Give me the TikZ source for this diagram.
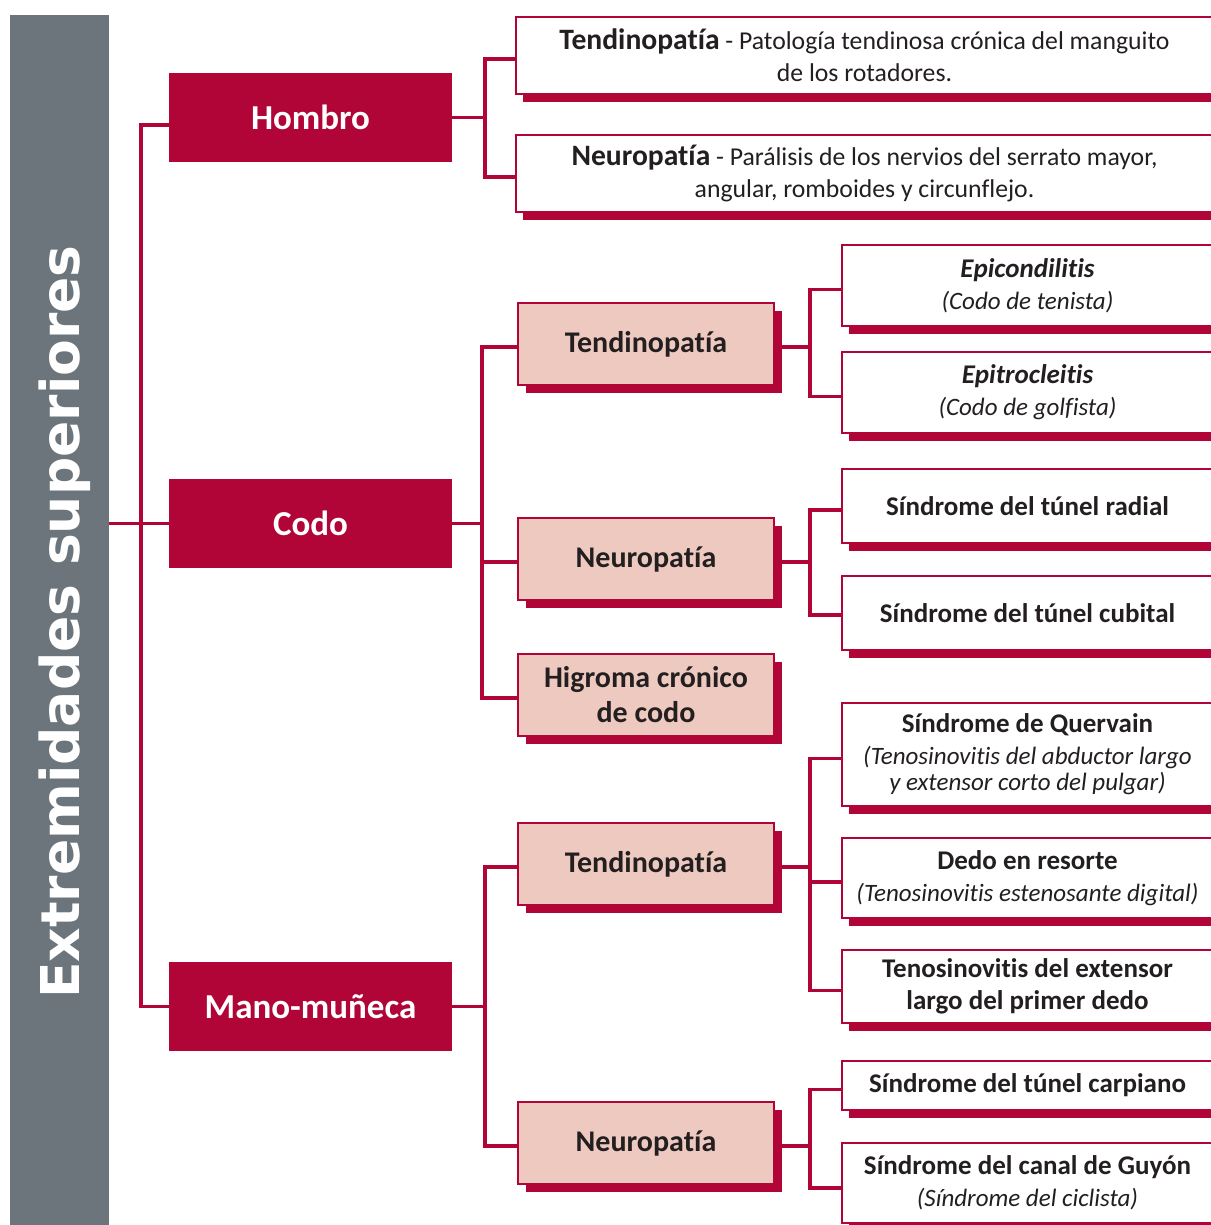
\documentclass[tikz,border=0pt]{standalone}
\usepackage{fontspec}
\setmainfont{Carlito}[Ligatures=NoCommon]
\newfontfamily\titlefont{DejaVu Sans}
\usetikzlibrary{shadows}
\definecolor{crim}{HTML}{B10537}
\definecolor{pinkf}{HTML}{EEC9C0}
\definecolor{slate}{HTML}{6B757B}
\definecolor{ink}{HTML}{231F20}
\newcommand{\bl}{\fontsize{27}{26}\selectfont\bfseries}
\newcommand{\il}{\fontsize{25}{26}\selectfont\itshape}
\tikzset{
 lone/.style={fill=crim,text=white,font=\fontsize{35}{40}\selectfont\bfseries,minimum width=283pt,minimum height=89pt,inner sep=0pt},
 pinkbox/.style={fill=pinkf,draw=crim,line width=1.7pt,text=ink,font=\fontsize{30}{35}\selectfont\bfseries,minimum width=256pt,minimum height=82pt,inner sep=0pt,align=center,drop shadow={shadow xshift=8pt,shadow yshift=-8pt,opacity=1,fill=crim}},
 whitebox/.style={fill=white,draw=crim,line width=1.7pt,text=ink,font=\fontsize{27}{26}\selectfont,inner sep=0pt,align=center,drop shadow={shadow xshift=7pt,shadow yshift=-8pt,opacity=1,fill=crim}},
 childbox/.style={whitebox,minimum width=371pt},
 conn/.style={draw=crim,line width=3.6pt},
}
\begin{document}
\begin{tikzpicture}[x=1pt,y=-1pt]
\useasboundingbox (0,0) rectangle (1210,1225);
% side bar
\node[fill=slate,minimum width=99pt,minimum height=1210pt,inner sep=0pt] (bar) at (59.5,620) {};
\node[rotate=90,anchor=base,text=white,inner sep=0pt,font=\titlefont\fontsize{53.5}{60}\selectfont\bfseries] (title) at (79,622) {Extremidades superiores};
% level 1
\node[lone] (hombro) at (310.5,117.5) {Hombro};
\node[lone] (codo) at (310.5,523.5) {Codo};
\node[lone] (mano) at (310.5,1006.5) {Mano-muñeca};
% hombro children
\node[whitebox,minimum width=697pt,minimum height=77pt,font=\fontsize{25.7}{32}\selectfont] (hten) at (864.5,55.5)
  {{\fontsize{29.6}{32}\selectfont\bfseries Tendinopatía} - Patología tendinosa crónica del manguito\\de los rotadores.};
\node[whitebox,minimum width=697pt,minimum height=77pt,font=\fontsize{25.7}{32}\selectfont] (hneu) at (864.5,173.5)
  {{\fontsize{29.6}{32}\selectfont\bfseries Neuropatía} - Parálisis de los nervios del serrato mayor,\\angular, romboides y circunflejo.};
% codo children
\node[pinkbox] (cten) at (646,344) {Tendinopatía};
\node[pinkbox] (cneu) at (646,559) {Neuropatía};
\node[pinkbox] (chig) at (646,695) {Higroma crónico\\de codo};
% mano children
\node[pinkbox] (mten) at (646,864) {Tendinopatía};
\node[pinkbox] (mneu) at (646,1143) {Neuropatía};
% level 3
\node[childbox,minimum height=81pt] (epi) at (1027.5,285.5) {{\bl\itshape Epicondilitis}\\[6pt]{\il (Codo de tenista)}};
\node[childbox,minimum height=81pt] (epit) at (1027.5,392.5) {{\bl\itshape Epitrocleitis}\\[6pt]{\il (Codo de golfista)}};
\node[childbox,minimum height=74pt] (rad) at (1027.5,506) {\bl Síndrome del túnel radial};
\node[childbox,minimum height=74pt] (cub) at (1027.5,613) {\bl Síndrome del túnel cubital};
\node[childbox,minimum height=103pt] (quer) at (1027.5,754.5) {{\bl Síndrome de Quervain}\\[6pt]{\il (Tenosinovitis del abductor largo}\\{\il y extensor corto del pulgar)}};
\node[childbox,minimum height=80pt] (dedo) at (1027.5,878) {{\bl Dedo en resorte}\\[6pt]{\il (Tenosinovitis estenosante digital)}};
\node[childbox,minimum height=73pt] (teno) at (1027.5,986.5) {{\bl Tenosinovitis del extensor}\\[6pt]{\bl largo del primer dedo}};
\node[childbox,minimum height=49pt] (carp) at (1027.5,1085.5) {\bl Síndrome del túnel carpiano};
\node[childbox,minimum height=80pt] (guy) at (1027.5,1183) {{\bl Síndrome del canal de Guyón}\\[6pt]{\il (Síndrome del ciclista)}};
% connectors level 0-1
\draw[conn] (bar.east |- codo.west) -- (codo.west);
\draw[conn] ([yshift=-7.5pt]hombro.west) -- ++(-28,0) |- (mano.west);
% hombro
\draw[conn] (hombro.east) -- ++(34,0);
\draw[conn] ([yshift=-3.5pt]hten.west) -- ++(-30,0) |- ([yshift=-3.5pt]hneu.west);
% codo
\draw[conn] (codo.east) -- ++(31,0);
\draw[conn] ([yshift=-3pt]cten.west) -- ++(-35,0) |- ([yshift=-3pt]chig.west);
\draw[conn] ([yshift=-3pt]cneu.west) -- ++(-35,0);
% mano
\draw[conn] (mano.east) -- ++(34,0);
\draw[conn] ([yshift=-3pt]mten.west) -- ++(-32,0) |- ([yshift=-3pt]mneu.west);
% level 2 -> 3
\draw[conn] ([yshift=-3pt]cten.east) -- ++(37,0);
\draw[conn] ([yshift=-4pt]epi.west) -- ++(-31,0) |- ([yshift=-4pt]epit.west);
\draw[conn] ([yshift=-3pt]cneu.east) -- ++(37,0);
\draw[conn] ([yshift=-4pt]rad.west) -- ++(-31,0) |- ([yshift=-2pt]cub.west);
\draw[conn] ([yshift=-3pt]mten.east) -- ++(37,0);
\draw[conn] ([yshift=-4pt]quer.west) -- ++(-31,0) |- ([yshift=-4pt]teno.west);
\draw[conn] ([yshift=-4pt]dedo.west) -- ++(-31,0);
\draw[conn] ([yshift=-3pt]mneu.east) -- ++(37,0);
\draw[conn] ([yshift=-4pt]carp.west) -- ++(-31,0) |- ([yshift=-5pt]guy.west);
\end{tikzpicture}
\end{document}
